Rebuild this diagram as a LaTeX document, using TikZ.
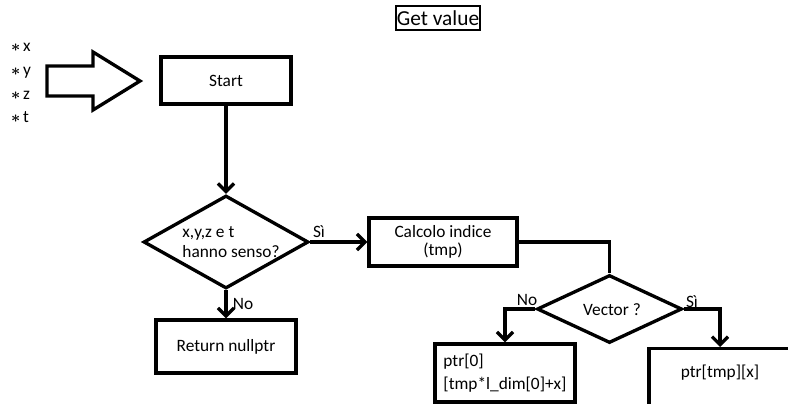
\documentclass[tikz,border=0pt]{standalone}
\usepackage{fontspec}
\setmainfont{Carlito}
\usetikzlibrary{arrows.meta,shapes.geometric}

\begin{document}
\begin{tikzpicture}[x=0.75pt,y=-0.75pt,line width=2.5pt,
  every node/.style={font=\fontsize{13}{15}\selectfont},
  box/.style={draw,rectangle,inner sep=0pt},
  decision/.style={draw,diamond,inner sep=0pt},
  flow/.style={-{Straight Barb[length=6pt,width=12pt]}}]
\useasboundingbox (0,0) rectangle (788,403);
\clip (0,0) rectangle (788,403);
% One pixel of the picture
\def\px{0.75pt}

% Title
\node[draw,line width=1.5pt,inner sep=1pt,minimum height=24*\px,
  font=\fontsize{16}{18}\selectfont] (title) at (438,18) {Get value};

% The four input values
\node[anchor=base west] (vx) at (5,52) {{\boldmath$\ast$}\,x};
\node[anchor=base west] (vy) at (5,75.5) {{\boldmath$\ast$}\,y};
\node[anchor=base west] (vz) at (5,99) {{\boldmath$\ast$}\,z};
\node[anchor=base west] (vt) at (5,122.5) {{\boldmath$\ast$}\,t};

% Hollow arrow into the start
\draw (47,66) -- (93,66) -- (93,52) -- (140,81) -- (93,110) -- (93,96) -- (47,96) -- cycle;

% Start and first check
\node[box,minimum width=130*\px,minimum height=47*\px] (start) at (226,80.5) {Start};
\node[decision,minimum width=165*\px,minimum height=93*\px] (check) at (226,242) {};
\node[align=left] (checktxt) at (231,242) {x,y,z e t\\hanno senso?};
\node[box,minimum width=140*\px,minimum height=53*\px] (ret) at (226,346.5) {Return nullptr};
\node[box,align=center,minimum width=148*\px,minimum height=48*\px,
  font=\fontsize{13}{14}\selectfont] (calc) at (443,242) {Calcolo indice\\(tmp)};

% Second check and its two results
\node[decision,minimum width=145*\px,minimum height=68*\px] (vec) at (609.5,309) {};
\node (vectxt) at (612,310) {Vector ?};
\node[box,align=left,minimum width=140*\px,minimum height=58*\px,
  font=\fontsize{13}{17}\selectfont] (ptr0) at (505,373) {ptr[0]\\{}[tmp*l\_dim[0]+x]};
\node[box,anchor=north,minimum width=142*\px,minimum height=80*\px] (ptrv) at (720,347) {};
\node (ptrvtxt) at (720,373) {ptr[tmp][x]};

% Connectors
\draw[flow] (start.south) -- (check.north);
\draw[flow] (check.east) -- (calc.west);
\node (si1) at (319,232) {Sì};
\draw[flow] (check.south) -- (ret.north);
\node (no1) at (243,304) {No};
\draw (calc.east) -| (vec.north);
\draw[flow] (vec.west) -| (ptr0.north);
\node (no2) at (527,300) {No};
\draw[flow] (vec.east) -| (ptrv.north);
\node (si2) at (692,302) {Sì};

\end{tikzpicture}
\end{document}
